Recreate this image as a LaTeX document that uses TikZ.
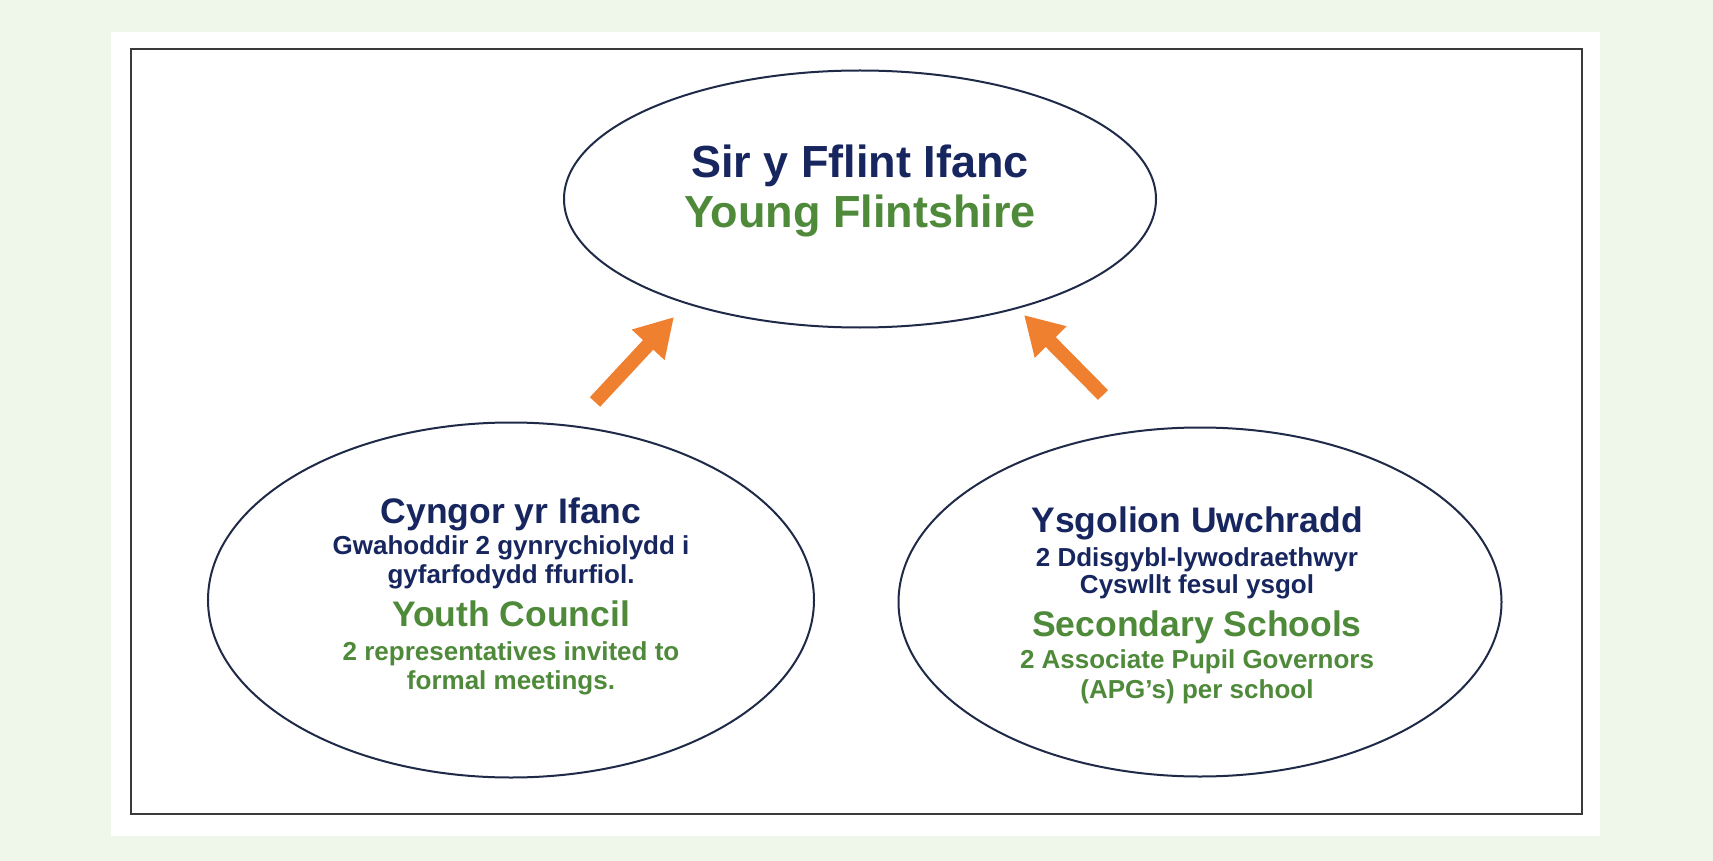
\documentclass[tikz,border=0pt]{standalone}
\usepackage{fontspec}
\setmainfont{Liberation Sans}
\usetikzlibrary{arrows.meta,shapes.geometric}
\definecolor{bggreen}{HTML}{EEF7E9}
\definecolor{navy}{HTML}{17265E}
\definecolor{tgreen}{HTML}{4E8A3A}
\definecolor{arrorange}{HTML}{EE8030}
\definecolor{ellline}{HTML}{1E2A48}
\definecolor{framegray}{HTML}{3A3A3A}
\tikzset{
  oval/.style={ellipse, draw=ellline, line width=2pt, inner sep=0pt, fill=white},
  big/.style={anchor=base, font=\fontsize{45}{45}\selectfont\bfseries},
  head/.style={anchor=base, font=\fontsize{35.5}{35.5}\selectfont\bfseries},
  small/.style={anchor=base, font=\fontsize{26}{26}\selectfont\bfseries},
  blockarrow/.style={draw=arrorange, line width=14pt, -{Triangle[length=38pt,width=42pt]}}
}
\begin{document}
\begin{tikzpicture}[x=1pt,y=-1pt]
\useasboundingbox (0,0) rectangle (1713,861);
\fill[bggreen] (0,0) rectangle (1713,861);
\fill[white] (111,32) rectangle (1600,836);
\draw[framegray, line width=1.5pt] (131,49) rectangle (1582,814);

\node[oval, minimum width=592pt, minimum height=257pt] (top) at (860,199) {};
\node[oval, minimum width=606pt, minimum height=355pt] (yc) at (511,600) {};
\node[oval, minimum width=603pt, minimum height=349pt] (ss) at (1200,602) {};

\node[big, text=navy] (t1) at (860,178) {Sir y Fflint Ifanc};
\node[big, text=tgreen] (t2) at (860,228) {Young Flintshire};

\node[head, text=navy] (l1) at (511,523) {Cyngor yr Ifanc};
\node[small, text=navy] (l2) at (511,554) {Gwahoddir 2 gynrychiolydd i};
\node[small, text=navy] (l3) at (511,583) {gyfarfodydd ffurfiol.};
\node[head, text=tgreen] (l4) at (511,626) {Youth Council};
\node[small, text=tgreen] (l5) at (511,660) {2 representatives invited to};
\node[small, text=tgreen] (l6) at (511,689) {formal meetings.};

\node[head, text=navy] (r1) at (1197,532) {Ysgolion Uwchradd};
\node[small, text=navy] (r2) at (1197,566) {2 Ddisgybl-lywodraethwyr};
\node[small, text=navy] (r3) at (1197,593) {Cyswllt fesul ysgol};
\node[head, text=tgreen] (r4) at (1197,636) {Secondary Schools};
\node[small, text=tgreen] (r5) at (1197,668) {2 Associate Pupil Governors};
\node[small, text=tgreen] (r6) at (1197,698) {(APG’s) per school};

\coordinate (a1s) at (595,402);
\coordinate (a1e) at (674,317);
\coordinate (a2s) at (1103,395);
\coordinate (a2e) at (1024,315);
\draw[blockarrow] (a1s) -- (a1e);
\draw[blockarrow] (a2s) -- (a2e);
\end{tikzpicture}
\end{document}
